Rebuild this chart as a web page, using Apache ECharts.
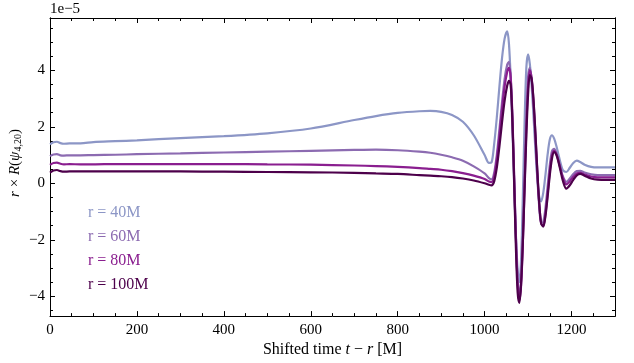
<!DOCTYPE html>
<html>
<head>
<meta charset="utf-8">
<script src="https://cdn.jsdelivr.net/npm/echarts@6/dist/echarts.min.js"></script>
<style>
  html, body { margin: 0; padding: 0; background: #fff; }
  #chart { width: 634px; height: 363px; }
</style>
</head>
<body>
<div id="chart"></div>
<script>
// shifted time t - r [M]
const times = [0, 8, 16, 24, 32, 45, 70, 100, 150, 200, 300, 400, 500, 600, 700, 750, 800, 850, 875, 900, 925, 950, 975,
	1000, 1010, 1016, 1022, 1028, 1034, 1040, 1046, 1052, 1056, 1060, 1064, 1068, 1072, 1076, 1080, 1084, 1088, 1092, 1096,
	1100, 1104, 1108, 1112, 1116, 1120, 1125, 1130, 1135, 1140, 1145, 1150, 1155, 1160, 1165, 1170, 1175, 1180, 1188, 1196,
	1204, 1212, 1220, 1230, 1245, 1260, 1280, 1300]

// r x Re(psi4,20), units of 1e-5
const r40 = [1.38, 1.45, 1.47, 1.42, 1.40, 1.41, 1.41, 1.46, 1.49, 1.52, 1.60, 1.67, 1.77, 1.94, 2.24, 2.38, 2.49, 2.55, 2.56, 2.53, 2.42, 2.18, 1.70,
	1.00, 0.72, 0.74, 1.39, 2.32, 3.41, 4.42, 5.12, 5.38, 4.94, 3.71, 1.93, -0.05, -1.83, -3.06, -3.50, -2.65, -0.45, 2.16, 4.09,
	4.56, 4.23, 3.50, 2.51, 1.43, 0.44, -0.42, -0.64, -0.33, 0.30, 1.02, 1.55, 1.70, 1.58, 1.33, 1.01, 0.70, 0.47, 0.40, 0.55,
	0.72, 0.80, 0.75, 0.66, 0.58, 0.56, 0.56, 0.56]
const r60 = [0.96, 1.02, 1.03, 0.99, 0.98, 0.99, 0.99, 1.00, 1.01, 1.03, 1.06, 1.09, 1.12, 1.15, 1.18, 1.19, 1.17, 1.12, 1.08, 1.01, 0.92, 0.80, 0.60,
	0.35, 0.18, 0.14, 0.37, 1.00, 1.90, 2.86, 3.69, 4.20, 4.30, 3.74, 2.23, 0.15, -1.93, -3.44, -4.00, -3.41, -1.81, 0.33, 2.38,
	3.76, 4.09, 3.70, 2.88, 1.77, 0.58, -0.69, -1.39, -1.36, -0.87, -0.11, 0.65, 1.14, 1.22, 1.08, 0.82, 0.52, 0.25, 0.05, 0.17,
	0.33, 0.43, 0.44, 0.38, 0.32, 0.29, 0.29, 0.29]
const r80 = [0.65, 0.72, 0.73, 0.69, 0.67, 0.68, 0.67, 0.67, 0.68, 0.68, 0.68, 0.68, 0.67, 0.66, 0.63, 0.61, 0.58, 0.54, 0.51, 0.48, 0.43, 0.36, 0.27,
	0.15, 0.06, 0.04, 0.25, 0.84, 1.68, 2.61, 3.42, 3.95, 4.09, 3.76, 2.35, 0.26, -1.92, -3.55, -4.15, -3.60, -2.11, -0.08, 1.96,
	3.45, 4.00, 3.74, 3.02, 1.97, 0.78, -0.57, -1.41, -1.51, -1.09, -0.36, 0.43, 0.99, 1.15, 1.04, 0.79, 0.49, 0.20, -0.04, 0.07,
	0.23, 0.35, 0.37, 0.31, 0.24, 0.21, 0.21, 0.21]
const r100 = [0.38, 0.45, 0.47, 0.43, 0.41, 0.42, 0.42, 0.42, 0.42, 0.42, 0.42, 0.41, 0.40, 0.39, 0.37, 0.35, 0.33, 0.29, 0.27, 0.25, 0.22, 0.17, 0.10,
	0.00, -0.05, -0.07, 0.07, 0.55, 1.30, 2.15, 2.92, 3.46, 3.63, 3.48, 2.16, 0.00, -2.28, -3.86, -4.23, -3.53, -2.08, -0.20, 1.69,
	3.14, 3.83, 3.71, 3.06, 2.04, 0.84, -0.55, -1.42, -1.53, -1.15, -0.47, 0.29, 0.88, 1.10, 1.01, 0.75, 0.42, 0.09, -0.19, -0.07,
	0.12, 0.28, 0.33, 0.27, 0.17, 0.13, 0.12, 0.12]

const seriesNames = ['r = 40M', 'r = 60M', 'r = 80M', 'r = 100M']
const seriesColors = ['#8c96c6', '#8c6bb1', '#8a1e8f', '#4d004b']
const seriesValues = [r40, r60, r80, r100]

const yMajor = [-4, -2, 0, 2, 4]
const yMinor = [-4.5, -3.5, -3, -2.5, -1.5, -1, -0.5, 0.5, 1, 1.5, 2.5, 3, 3.5, 4.5, 5, 5.5]

const font = '"Liberation Serif", "DejaVu Serif", serif'

const chart = echarts.init(document.getElementById('chart'))

const yAxisBase = (position, withLabels, values, len) => ({
	type: 'value',
	position: position,
	min: -4.7,
	max: 5.85,
	axisLine: { show: true, onZero: false, lineStyle: { color: '#000', width: 1 } },
	axisTick: { show: true, inside: true, length: len, customValues: values, lineStyle: { color: '#000' } },
	axisLabel: withLabels ? {
		show: true, customValues: values, margin: 5, color: '#000', fontFamily: font, fontSize: 15,
		formatter: v => v < 0 ? '\u2212' + Math.abs(v) : String(v)
	} : { show: false },
	splitLine: { show: false }
})

const xAxisBase = (position, withLabels) => ({
	type: 'value',
	position: position,
	min: 0,
	max: 1300,
	interval: 200,
	axisLine: { show: true, onZero: false, lineStyle: { color: '#000', width: 1 } },
	axisTick: { show: true, inside: true, length: 5, lineStyle: { color: '#000' } },
	minorTick: { show: true, splitNumber: 4, length: 3, lineStyle: { color: '#000' } },
	axisLabel: withLabels ? {
		show: true, margin: 6, color: '#000', fontFamily: font, fontSize: 15,
		showMaxLabel: false,
		formatter: v => String(v)
	} : { show: false },
	splitLine: { show: false }
})

const option = {
	animation: false,
	grid: { left: 50, right: 19, top: 18, bottom: 44, containLabel: false },
	xAxis: [
		Object.assign(xAxisBase('bottom', true), {
			name: '{n|Shifted time }{i|t}{n| \u2212 }{i|r}{n| [M]}',
			nameLocation: 'middle',
			nameGap: 23,
			nameTextStyle: {
				rich: {
					n: { fontFamily: font, fontSize: 16, color: '#000' },
					i: { fontFamily: font, fontSize: 16, fontStyle: 'italic', color: '#000' }
				}
			}
		}),
		xAxisBase('top', false)
	],
	yAxis: [
		yAxisBase('left', true, yMajor, 5),
		yAxisBase('left', false, yMinor, 3),
		yAxisBase('right', false, yMajor, 5),
		yAxisBase('right', false, yMinor, 3)
	],
	legend: {
		orient: 'vertical',
		left: 78,
		top: 200,
		itemWidth: 0,
		itemHeight: 15,
		itemGap: 8,
		icon: 'none',
		selectedMode: false,
		textStyle: { fontFamily: font, fontSize: 16 },
		data: seriesNames.map((name, i) => ({ name: name, textStyle: { color: seriesColors[i] } }))
	},
	graphic: [
		{
			type: 'text',
			left: 50,
			top: 2,
			style: { text: '1e\u22125', fontFamily: font, fontSize: 15, fill: '#000' }
		},
		{
			type: 'text',
			x: 15,
			y: 163,
			rotation: Math.PI / 2,
			style: {
				text: '{i|r}{n| \u00d7 }{i|R}{n|(}{i|\u03c8}{s|4,20}{n|)}',
				align: 'center',
				verticalAlign: 'middle',
				rich: {
					n: { fontFamily: font, fontSize: 15, fill: '#000' },
					i: { fontFamily: font, fontSize: 15, fontStyle: 'italic', fill: '#000' },
					s: { fontFamily: font, fontSize: 10, fill: '#000', padding: [6, 0, 0, 0] }
				}
			}
		}
	],
	series: seriesNames.map((name, i) => ({
		name: name,
		type: 'line',
		xAxisIndex: 0,
		yAxisIndex: 0,
		data: times.map((t, k) => [t, seriesValues[i][k]]),
		smooth: 0.3,
		showSymbol: false,
		symbol: 'none',
		color: seriesColors[i],
		lineStyle: { width: 2.2, color: seriesColors[i] },
		z: 2 + i
	}))
}

chart.setOption(option)
</script>
</body>
</html>
